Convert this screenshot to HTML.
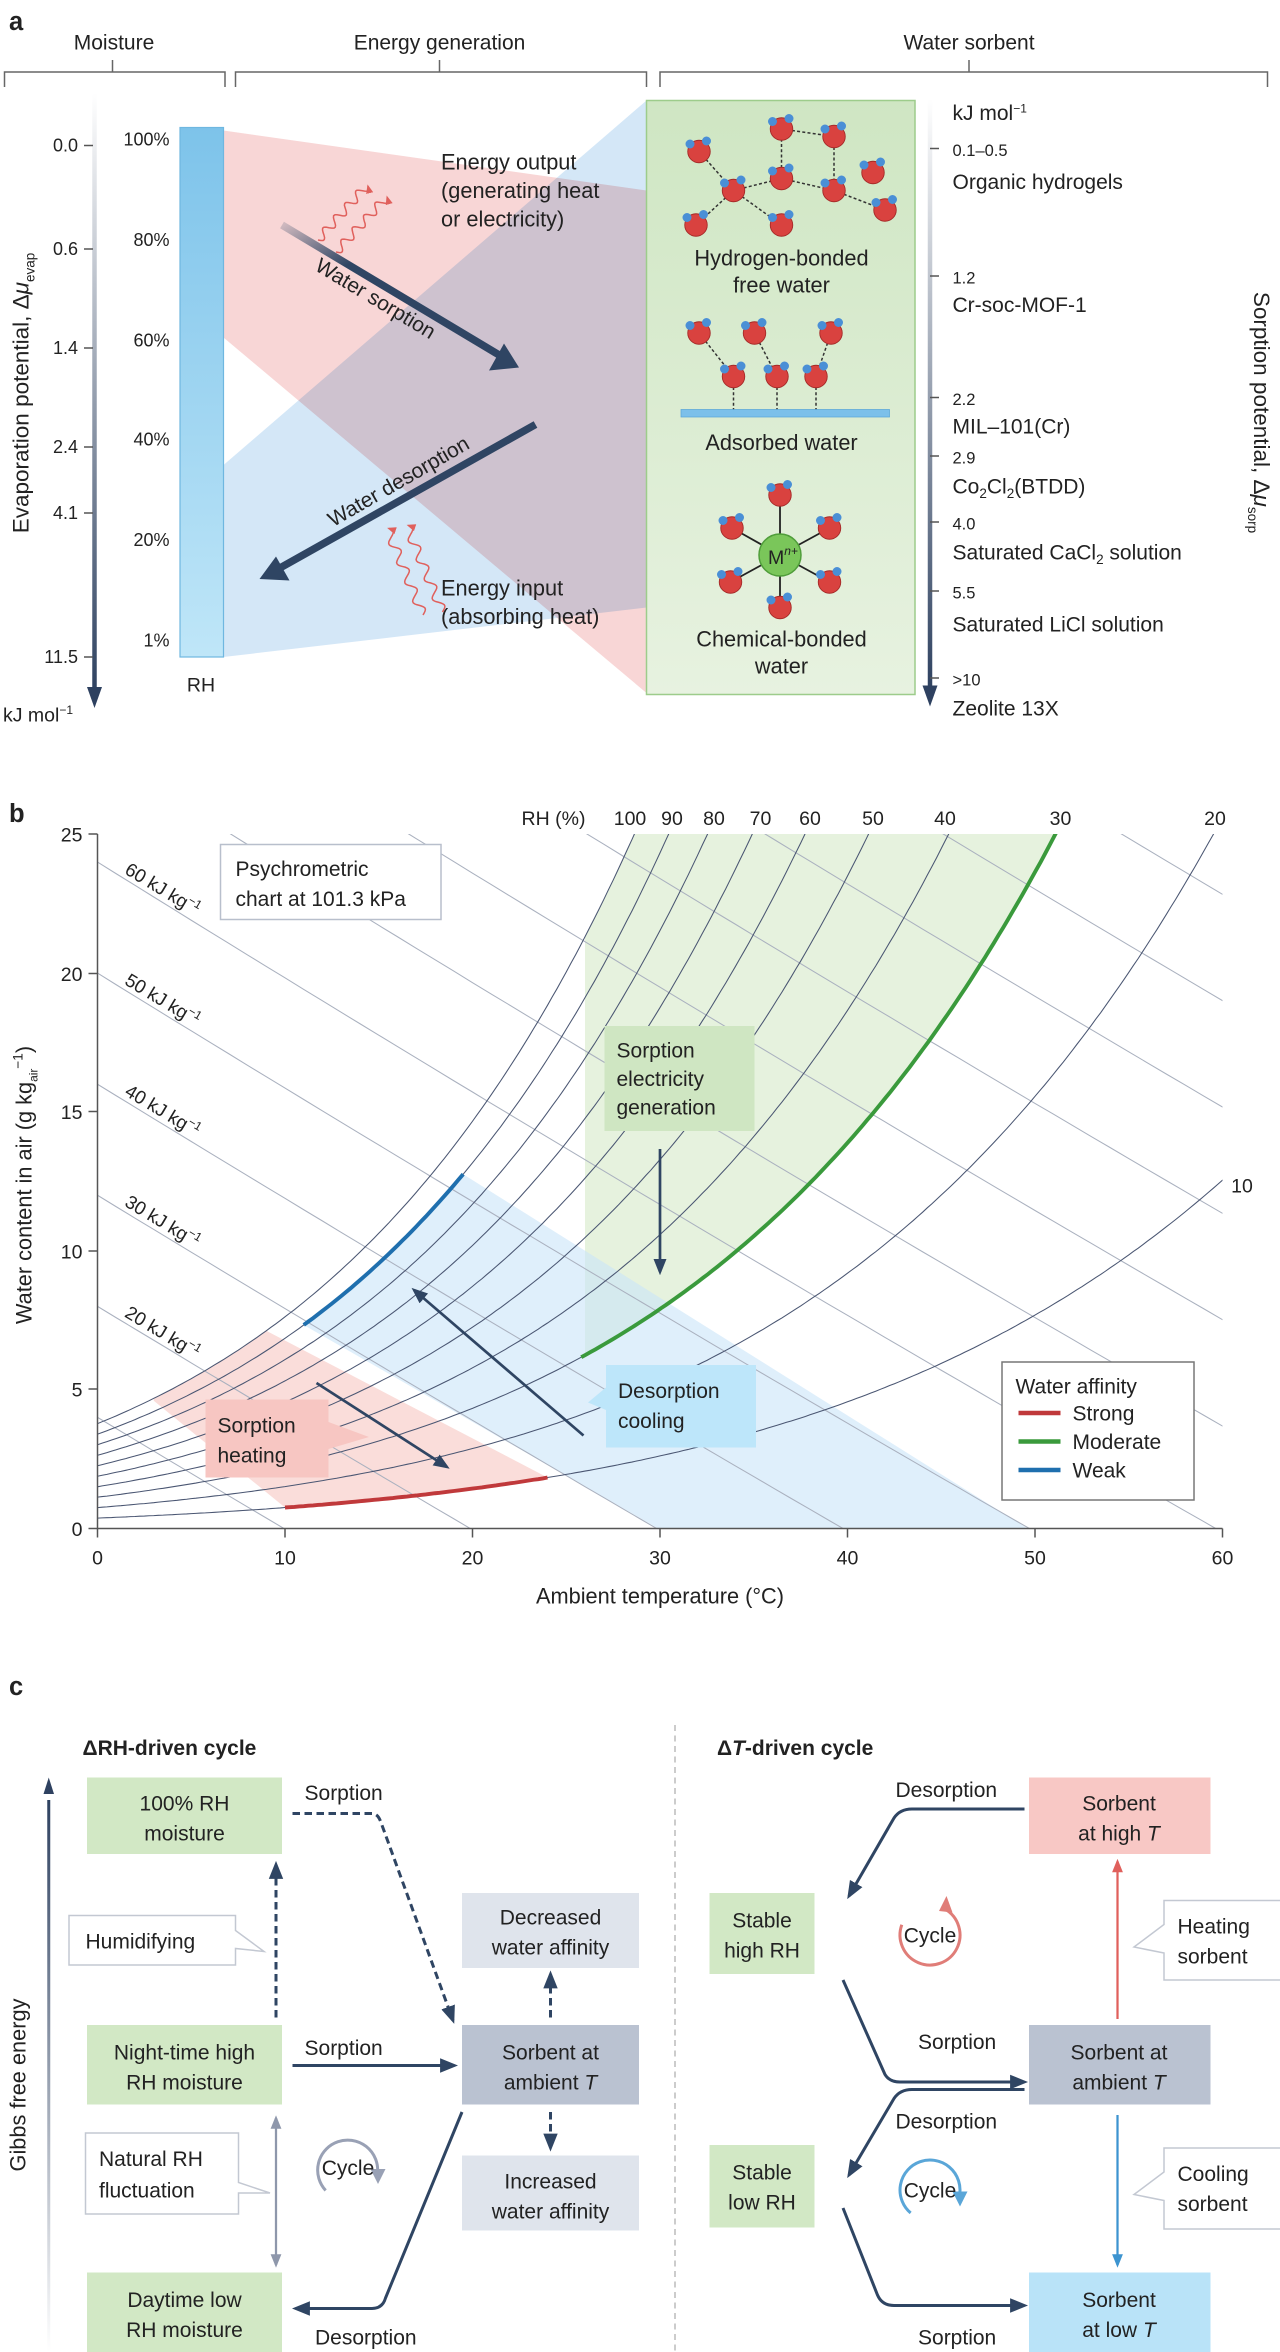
<!DOCTYPE html>
<html><head><meta charset="utf-8">
<style>
html,body{margin:0;padding:0;background:#fff;}
svg{display:block;font-family:"Liberation Sans",sans-serif;}
text{fill:#222;}
</style></head><body>
<svg id="s" xmlns="http://www.w3.org/2000/svg" width="1280" height="2352" viewBox="0 0 853.33 1568">
<defs>
<linearGradient id="axg" x1="0" y1="0" x2="0" y2="1"><stop offset="0" stop-color="#fff"/><stop offset="1" stop-color="#2e4160"/></linearGradient>
<linearGradient id="rhg" x1="0" y1="0" x2="0" y2="1"><stop offset="0" stop-color="#7dc3ea"/><stop offset="1" stop-color="#bfe6f8"/></linearGradient>
<linearGradient id="gbox" x1="0" y1="0" x2="0" y2="1"><stop offset="0" stop-color="#cfe6c3"/><stop offset="1" stop-color="#e7f2e0"/></linearGradient>
<linearGradient id="arr1" x1="0" y1="0" x2="1" y2="1"><stop offset="0" stop-color="#2f4563" stop-opacity="0.2"/><stop offset="0.3" stop-color="#2f4563"/></linearGradient>
<clipPath id="pc"><rect x="65" y="556" width="750" height="463"/></clipPath>
<marker id="ahs" viewBox="0 0 10 10" refX="8" refY="5" markerWidth="6" markerHeight="6" orient="auto"><path d="M0,1L10,5L0,9z" fill="#2f4563"/></marker>
<marker id="ahg" viewBox="0 0 10 10" refX="8" refY="5" markerWidth="6" markerHeight="6" orient="auto-start-reverse"><path d="M0,1L10,5L0,9z" fill="#8e97ab"/></marker>
<marker id="ahr" viewBox="0 0 10 10" refX="8" refY="5" markerWidth="6" markerHeight="6" orient="auto"><path d="M0,1L10,5L0,9z" fill="#e0605c"/></marker>
<marker id="ahb" viewBox="0 0 10 10" refX="8" refY="5" markerWidth="6" markerHeight="6" orient="auto"><path d="M0,1L10,5L0,9z" fill="#3d94d0"/></marker>
</defs>

<!-- ================= PANEL A ================= -->
<text x="6" y="20" font-size="17" font-weight="bold">a</text>
<g font-size="14" text-anchor="middle" fill="#333">
<text x="76" y="33">Moisture</text><text x="293" y="33">Energy generation</text><text x="646" y="33">Water sorbent</text>
</g>
<g stroke="#666" stroke-width="1" fill="none">
<path d="M3,58V48H150V58M75,48V40"/><path d="M157,58V48H431V58M293,48V40"/><path d="M440,58V48H845V58M646,48V40"/>
</g>
<polygon points="149,87 431,127 431,462 149,225" fill="#f6c8c8" opacity="0.75" style="mix-blend-mode:multiply"/>
<polygon points="149,310 431,67 431,405 149,438" fill="#cde3f6" opacity="0.85" style="mix-blend-mode:multiply"/>
<rect x="61.5" y="62" width="3" height="400" fill="url(#axg)"/>
<path d="M58,458L63,472L68,458z" fill="#2e4160"/>
<g font-size="12" text-anchor="end" fill="#444">
<text x="52" y="101">0.0</text><text x="52" y="170">0.6</text><text x="52" y="236">1.4</text><text x="52" y="302">2.4</text><text x="52" y="346">4.1</text><text x="52" y="442">11.5</text>
</g>
<g stroke="#555" stroke-width="1"><path d="M56,97H62M56,166H62M56,232H62M56,298H62M56,342H62M56,438H62"/></g>
<text x="2" y="481" font-size="13">kJ mol<tspan font-size="8" dy="-5">−1</tspan></text>
<text transform="translate(19,262) rotate(-90)" font-size="15" text-anchor="middle">Evaporation potential, Δ<tspan font-style="italic">μ</tspan><tspan font-size="9" dy="4">evap</tspan></text>
<rect x="120" y="85" width="29" height="353" fill="url(#rhg)" stroke="#6fb7e0" stroke-width="0.8"/>
<g font-size="12" text-anchor="end" fill="#444">
<text x="113" y="97">100%</text><text x="113" y="164">80%</text><text x="113" y="231">60%</text><text x="113" y="297">40%</text><text x="113" y="364">20%</text><text x="113" y="431">1%</text>
</g>
<text x="134" y="461" font-size="13" text-anchor="middle">RH</text>
<line x1="188" y1="150" x2="335" y2="238" stroke="url(#arr1)" stroke-width="5"/>
<path d="M326,247L346,245L336,229z" fill="#2f4563"/>
<text transform="translate(248,203) rotate(31)" font-size="14" text-anchor="middle">Water sorption</text>
<line x1="357" y1="283" x2="186" y2="379" stroke="#2f4563" stroke-width="5"/>
<path d="M173,386L193,387L184,371z" fill="#2f4563"/>
<text transform="translate(268,325) rotate(-30)" font-size="14" text-anchor="middle">Water desorption</text>
<g id="waves"></g>
<g font-size="14.5" fill="#333">
<text x="294" y="113">Energy output</text><text x="294" y="132">(generating heat</text><text x="294" y="151">or electricity)</text>
<text x="294" y="397">Energy input</text><text x="294" y="416">(absorbing heat)</text>
</g>
<rect x="431" y="67" width="179" height="396" fill="url(#gbox)" stroke="#9dcc8b" stroke-width="1"/>
<g id="mols"></g>
<rect x="454" y="273" width="139" height="5" fill="#7cc0ea" stroke="#5aa5d8" stroke-width="0.5"/>
<circle cx="520" cy="370" r="14" fill="#7ac65a" stroke="#4f9d3a"/>
<text x="512" y="376" font-size="13">M<tspan font-size="8" dy="-6" font-style="italic">n+</tspan></text>
<g font-size="14.5" text-anchor="middle" fill="#333">
<text x="521" y="177">Hydrogen-bonded</text><text x="521" y="195">free water</text>
<text x="521" y="300">Adsorbed water</text>
<text x="521" y="431">Chemical-bonded</text><text x="521" y="449">water</text>
</g>
<rect x="618.5" y="66" width="3" height="395" fill="url(#axg)"/>
<path d="M615,457L620,471L625,457z" fill="#2e4160"/>
<g stroke="#555" stroke-width="1"><path d="M620,99H626M620,184H626M620,265H626M620,304H626M620,348H626M620,394H626M620,452H626"/></g>
<g font-size="14" fill="#333">
<text x="635" y="80">kJ mol<tspan font-size="8" dy="-5">−1</tspan></text>
<text x="635" y="104" font-size="11" fill="#555">0.1–0.5</text><text x="635" y="126">Organic hydrogels</text>
<text x="635" y="189" font-size="11" fill="#555">1.2</text><text x="635" y="208">Cr-soc-MOF-1</text>
<text x="635" y="270" font-size="11" fill="#555">2.2</text><text x="635" y="289">MIL–101(Cr)</text>
<text x="635" y="309" font-size="11" fill="#555">2.9</text><text x="635" y="329">Co<tspan font-size="9" dy="3">2</tspan><tspan dy="-3">Cl</tspan><tspan font-size="9" dy="3">2</tspan><tspan dy="-3">(BTDD)</tspan></text>
<text x="635" y="353" font-size="11" fill="#555">4.0</text><text x="635" y="373">Saturated CaCl<tspan font-size="9" dy="3">2</tspan><tspan dy="-3"> solution</tspan></text>
<text x="635" y="399" font-size="11" fill="#555">5.5</text><text x="635" y="421">Saturated LiCl solution</text>
<text x="635" y="457" font-size="11" fill="#555">&gt;10</text><text x="635" y="477">Zeolite 13X</text>
</g>
<text transform="translate(836,275) rotate(90)" font-size="15" text-anchor="middle">Sorption potential, Δ<tspan font-style="italic">μ</tspan><tspan font-size="9" dy="4">sorp</tspan></text>

<!-- ================= PANEL B ================= -->
<text x="6" y="548" font-size="17" font-weight="bold">b</text>
<g id="chart" clip-path="url(#pc)"></g>
<g id="chart2"></g>
<g stroke="#555" stroke-width="1" fill="none">
<path d="M65,556V1019H815"/>
<path d="M59,556H65M59,649H65M59,741H65M59,834H65M59,926H65M59,1019H65"/>
<path d="M65,1019v6M190,1019v6M315,1019v6M440,1019v6M565,1019v6M690,1019v6M815,1019v6"/>
</g>
<g font-size="13" text-anchor="end" fill="#444">
<text x="55" y="561">25</text><text x="55" y="654">20</text><text x="55" y="746">15</text><text x="55" y="839">10</text><text x="55" y="931">5</text><text x="55" y="1024">0</text>
</g>
<g font-size="13" text-anchor="middle" fill="#444">
<text x="65" y="1043">0</text><text x="190" y="1043">10</text><text x="315" y="1043">20</text><text x="440" y="1043">30</text><text x="565" y="1043">40</text><text x="690" y="1043">50</text><text x="815" y="1043">60</text>
</g>
<text x="440" y="1069" font-size="14.5" text-anchor="middle">Ambient temperature (°C)</text>
<text transform="translate(21,790) rotate(-90)" font-size="14.5" text-anchor="middle">Water content in air (g kg<tspan font-size="8" dy="4">air</tspan><tspan dy="-10" font-size="9">−1</tspan><tspan dy="6">)</tspan></text>
<g font-size="13" fill="#444" text-anchor="middle">
<text x="369" y="550">RH (%)</text><text x="420" y="550">100</text><text x="448" y="550">90</text><text x="476" y="550">80</text><text x="507" y="550">70</text><text x="540" y="550">60</text><text x="582" y="550">50</text><text x="630" y="550">40</text><text x="707" y="550">30</text><text x="810" y="550">20</text><text x="828" y="795">10</text>
</g>
<rect x="147" y="563" width="147" height="50" fill="#fff" stroke="#b8bfcc"/>
<text x="157" y="584" font-size="14">Psychrometric</text><text x="157" y="604" font-size="14">chart at 101.3 kPa</text>
<rect x="403" y="684" width="100" height="70" fill="#cfe6c2"/>
<g font-size="14"><text x="411" y="705">Sorption</text><text x="411" y="724">electricity</text><text x="411" y="743">generation</text></g>
<line x1="440" y1="766" x2="440" y2="848" stroke="#2f4563" stroke-width="1.8" marker-end="url(#ahs)"/>
<path d="M404,925L392,935L404,940z" fill="#bde6fa"/>
<rect x="404" y="910" width="100" height="55" fill="#bde6fa"/>
<g font-size="14"><text x="412" y="932">Desorption</text><text x="412" y="952">cooling</text></g>
<line x1="389" y1="957" x2="276" y2="860" stroke="#2f4563" stroke-width="1.8" marker-end="url(#ahs)"/>
<path d="M219,948L246,958L219,966z" fill="#f7c6c2"/>
<rect x="137" y="933" width="82" height="52" fill="#f7c6c2"/>
<g font-size="14"><text x="145" y="955">Sorption</text><text x="145" y="975">heating</text></g>
<line x1="211" y1="922" x2="298" y2="978" stroke="#2f4563" stroke-width="1.8" marker-end="url(#ahs)"/>
<rect x="668" y="908" width="128" height="92" fill="#fff" stroke="#777"/>
<g font-size="14"><text x="677" y="929">Water affinity</text><text x="715" y="947">Strong</text><text x="715" y="966">Moderate</text><text x="715" y="985">Weak</text></g>
<g stroke-width="3"><line x1="679" y1="942" x2="707" y2="942" stroke="#c0393b"/><line x1="679" y1="961" x2="707" y2="961" stroke="#3a9a3c"/><line x1="679" y1="980" x2="707" y2="980" stroke="#1f6fae"/></g>

<!-- ================= PANEL C ================= -->
<text x="6" y="1130" font-size="17" font-weight="bold">c</text>
<line x1="450" y1="1150" x2="450" y2="1568" stroke="#bbb" stroke-dasharray="4,3"/>
<text x="55" y="1170" font-size="14" font-weight="bold">ΔRH-driven cycle</text>
<text x="478" y="1170" font-size="14" font-weight="bold">Δ<tspan font-style="italic">T</tspan>-driven cycle</text>
<rect x="31.5" y="1200" width="2" height="368" fill="url(#axg)" transform="rotate(180 32.5 1384)"/>
<path d="M29,1196L32.5,1185L36,1196z" fill="#2e4160"/>
<text transform="translate(17,1390) rotate(-90)" font-size="14.5" text-anchor="middle">Gibbs free energy</text>
<g font-size="14" text-anchor="middle" fill="#333">
<rect x="58" y="1185" width="130" height="51" fill="#d2e8c5"/><text x="123" y="1207">100% RH</text><text x="123" y="1227">moisture</text>
<rect x="58" y="1350" width="130" height="53" fill="#d2e8c5"/><text x="123" y="1373">Night-time high</text><text x="123" y="1393">RH moisture</text>
<rect x="58" y="1515" width="130" height="53" fill="#d2e8c5"/><text x="123" y="1538">Daytime low</text><text x="123" y="1558">RH moisture</text>
<rect x="308" y="1262" width="118" height="50" fill="#dfe4ec"/><text x="367" y="1283">Decreased</text><text x="367" y="1303">water affinity</text>
<rect x="308" y="1350" width="118" height="53" fill="#bac2d1"/><text x="367" y="1373">Sorbent at</text><text x="367" y="1393">ambient <tspan font-style="italic">T</tspan></text>
<rect x="308" y="1437" width="118" height="50" fill="#dfe4ec"/><text x="367" y="1459">Increased</text><text x="367" y="1479">water affinity</text>
<rect x="686" y="1185" width="121" height="51" fill="#f8c8c5"/><text x="746" y="1207">Sorbent</text><text x="746" y="1227">at high <tspan font-style="italic">T</tspan></text>
<rect x="473" y="1262" width="70" height="54" fill="#d2e8c5"/><text x="508" y="1285">Stable</text><text x="508" y="1305">high RH</text>
<rect x="686" y="1350" width="121" height="53" fill="#bac2d1"/><text x="746" y="1373">Sorbent at</text><text x="746" y="1393">ambient <tspan font-style="italic">T</tspan></text>
<rect x="473" y="1430" width="70" height="55" fill="#d2e8c5"/><text x="508" y="1453">Stable</text><text x="508" y="1473">low RH</text>
<rect x="686" y="1515" width="121" height="53" fill="#b9e3f8"/><text x="746" y="1538">Sorbent</text><text x="746" y="1558">at low <tspan font-style="italic">T</tspan></text>
</g>
<g fill="#fff" stroke="#c3c8d2" stroke-width="1">
<path d="M46,1277H157V1287L176,1301L157,1299V1310H46z"/>
<path d="M57,1422H159V1455L180,1462H159V1476H57z"/>
<path d="M776,1267H855V1320H776V1302L756,1298L776,1283z"/>
<path d="M776,1432H855V1486H776V1467L756,1463L776,1448z"/>
</g>
<g font-size="14" fill="#333">
<text x="57" y="1299">Humidifying</text>
<text x="66" y="1444">Natural RH</text><text x="66" y="1465">fluctuation</text>
<text x="785" y="1289">Heating</text><text x="785" y="1309">sorbent</text>
<text x="785" y="1454">Cooling</text><text x="785" y="1474">sorbent</text>
</g>
<g fill="none" stroke="#2f4563" stroke-width="2">
<path d="M184,1345V1243" stroke-dasharray="5,3" marker-end="url(#ahs)"/>
<path d="M195,1209H248Q252,1209 254,1215L302,1347" stroke-dasharray="5,3" marker-end="url(#ahs)"/>
<path d="M367,1345V1316" stroke-dasharray="5,3" marker-end="url(#ahs)"/>
<path d="M367,1408V1432" stroke-dasharray="5,3" marker-end="url(#ahs)"/>
<path d="M195,1377H303" marker-end="url(#ahs)"/>
<path d="M308,1408L257,1532Q255,1539 248,1539H197" marker-end="url(#ahs)"/>
<path d="M683,1206H608Q600,1206 596,1212L566,1264" marker-end="url(#ahs)"/>
<path d="M562,1320L590,1383Q593,1388 600,1388H683" marker-end="url(#ahs)"/>
<path d="M683,1393H608Q600,1393 596,1399L566,1450" marker-end="url(#ahs)"/>
<path d="M562,1472L585,1530Q588,1537 596,1537H683" marker-end="url(#ahs)"/>
</g>
<path d="M184,1412V1510" fill="none" stroke="#8e97ab" stroke-width="1.5" marker-start="url(#ahg)" marker-end="url(#ahg)"/>
<path d="M745,1346V1241" stroke="#e0605c" stroke-width="1.5" marker-end="url(#ahr)"/>
<path d="M745,1410V1510" stroke="#3d94d0" stroke-width="1.5" marker-end="url(#ahb)"/>
<g font-size="14" fill="#333">
<text x="203" y="1200">Sorption</text><text x="203" y="1370">Sorption</text><text x="210" y="1563">Desorption</text>
<text x="597" y="1198">Desorption</text><text x="612" y="1366">Sorption</text><text x="597" y="1419">Desorption</text><text x="612" y="1563">Sorption</text>
</g>
<g fill="none" stroke-width="2">
<path d="M217.1,1460.3A20,20 0 1 1 251.7,1448.5" stroke="#99a1b5"/>
<path d="M601.2,1283.2A20,20 0 1 0 630,1272.7" stroke="#e07d78"/>
<path d="M607.1,1475.3A20,20 0 1 1 639.7,1463.5" stroke="#5aa6d8"/>
</g>
<path d="M247,1446L252,1456L257,1446z" fill="#99a1b5"/>
<path d="M626,1274L631,1264L635,1275z" fill="#e07d78"/>
<path d="M635,1461L640,1471L645,1461z" fill="#5aa6d8"/>
<g font-size="14" fill="#333" text-anchor="middle"><text x="232" y="1450">Cycle</text><text x="620" y="1295">Cycle</text><text x="620" y="1465">Cycle</text></g>

<script>
(function(){
var NS="http://www.w3.org/2000/svg";
function el(n,a,p){var e=document.createElementNS(NS,n);for(var k in a)e.setAttribute(k,a[k]);(p||document.getElementById('chart')).appendChild(e);return e;}
function X(T){return 65+12.5*T;} function Y(w){return 1019-18.52*w;}
function ps(T){return 610.94*Math.exp(17.625*T/(T+243.04));}
function W(T,f){var p=f*ps(T);return 622*p/(101325-p);}
function hw(h,T){return (h-1.006*T)/(2.501+0.00186*T);}
function pts(arr){return arr.map(function(p){return X(p[0]).toFixed(1)+','+Y(p[1]).toFixed(1);}).join(' ');}
var T,a;
a=[];for(T=26;T<=32;T+=0.25)a.push([T,W(T,1)]);for(T=55;T>=26;T-=0.25)a.push([T,W(T,0.3)]);
el('polygon',{points:pts(a),fill:'#d5e9c8',opacity:'0.6'});
a=[];for(T=11;T<=19.5;T+=0.25)a.push([T,W(T,0.9)]);a.push([49.6,0]);a.push([29.9,0]);
el('polygon',{points:pts(a),fill:'#c9e5f8',opacity:'0.6'});
a=[];for(T=3;T<=9.2;T+=0.25)a.push([T,W(T,1)]);a.push([24,W(24,0.1)]);for(T=24;T>=10;T-=0.5)a.push([T,W(T,0.1)]);a.push([3,4.6]);
el('polygon',{points:pts(a),fill:'#f6c6c1',opacity:'0.6'});
for(var h=10;h<=130;h+=10){a=[];for(T=0;T<=62;T+=1)a.push([T,hw(h,T)]);el('polyline',{points:pts(a),fill:'none',stroke:'#aab1bf','stroke-width':'0.7'});}
for(var f=1;f<=10;f++){a=[];for(T=0;T<=62;T+=0.25){var w=W(T,f/10);a.push([T,w]);if(w>26)break;}el('polyline',{points:pts(a),fill:'none',stroke:'#4a5672','stroke-width':'0.7'});}
a=[];for(T=10;T<=24;T+=0.25)a.push([T,W(T,0.1)]);el('polyline',{points:pts(a),fill:'none',stroke:'#c0393b','stroke-width':'2.6'});
a=[];for(T=25.8;T<=52;T+=0.25)a.push([T,W(T,0.3)]);el('polyline',{points:pts(a),fill:'none',stroke:'#3a9a3c','stroke-width':'2.6'});
a=[];for(T=11;T<=19.5;T+=0.25)a.push([T,W(T,0.9)]);el('polyline',{points:pts(a),fill:'none',stroke:'#1f6fae','stroke-width':'2.6'});
var c2=document.getElementById('chart2');
[20,30,40,50,60].forEach(function(h){var T0=3.3,x=X(T0),y=Y(hw(h,T0));var t=el('text',{transform:'translate('+x+','+(y-4)+') rotate(31)','font-size':'12.5','text-anchor':'middle',fill:'#555'},c2);t.textContent=h+' kJ kg';var s=el('tspan',{'font-size':'8',dy:'-5'},t);s.textContent='−1';});
// wavy arrows
var WV=document.getElementById('waves');
function wave(x1,y1,x2,y2){var dx=x2-x1,dy=y2-y1,L=Math.sqrt(dx*dx+dy*dy),ux=dx/L,uy=dy/L,nx=-uy,ny=ux,d='';
for(var s=0;s<=L;s+=1){var o=3*Math.sin(s/L*Math.PI*2*4.5);var x=x1+ux*s+nx*o,y=y1+uy*s+ny*o;d+=(s?'L':'M')+x.toFixed(1)+','+y.toFixed(1);}
el('path',{d:d,fill:'none',stroke:'#e0605c','stroke-width':'1',"marker-end":'url(#ahr)'},WV);}
wave(212,160,245,123);wave(224,168,258,131);wave(282,410,258,352);wave(295,408,271,350);
// molecules
var M=document.getElementById('mols');
function dash(x1,y1,x2,y2){el('line',{x1:x1,y1:y1,x2:x2,y2:y2,stroke:'#333','stroke-width':'1','stroke-dasharray':'2,1.5'},M);}
function mol(x,y){el('circle',{cx:x,cy:y,r:7.5,fill:'#d9423f',stroke:'#a52a28','stroke-width':'0.6'},M);el('circle',{cx:x-6,cy:y-5,r:3,fill:'#4a8fd6'},M);el('circle',{cx:x+5,cy:y-7,r:3,fill:'#4a8fd6'},M);}
var hb=[[466,101],[521,86],[556,91],[489,127],[521,119],[556,127],[464,150],[521,150],[582,115],[590,140]];
[[0,3],[3,4],[4,1],[1,2],[2,5],[4,5],[3,6],[3,7],[5,9]].forEach(function(p){dash(hb[p[0]][0],hb[p[0]][1],hb[p[1]][0],hb[p[1]][1]);});
hb.forEach(function(p){mol(p[0],p[1]);});
var top=[[466,222],[503,222],[554,222]],lo=[[489,251],[518,251],[544,251]];
for(var i=0;i<3;i++){dash(top[i][0],top[i][1],lo[i][0],lo[i][1]);dash(lo[i][0],lo[i][1],lo[i][0],274);}
top.concat(lo).forEach(function(p){mol(p[0],p[1]);});
var ch=[[520,330],[520,405],[488,352],[553,352],[487,388],[553,388]];
ch.forEach(function(p){el('line',{x1:520,y1:370,x2:p[0],y2:p[1],stroke:'#222','stroke-width':'1.2'},M);});
ch.forEach(function(p){mol(p[0],p[1]);});
})();
</script>
</svg>
</body></html>
